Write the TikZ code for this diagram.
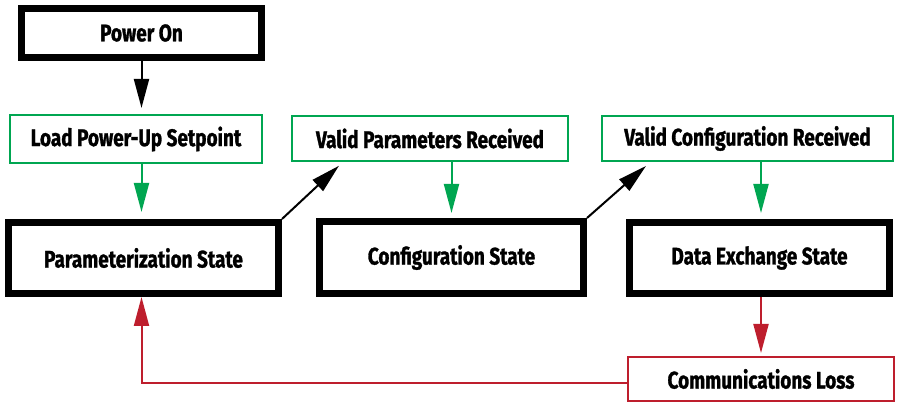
\documentclass[tikz,border=0pt]{standalone}
\usepackage{fontspec}
\setmainfont{Fira Sans}[FakeStretch=0.79, BoldFeatures={FakeBold=1.2}]
\usetikzlibrary{arrows.meta,calc}
\definecolor{mygreen}{RGB}{0,166,81}
\definecolor{myred}{RGB}{190,30,45}
\begin{document}
\begin{tikzpicture}[x=1pt,y=-1pt,
  lbl/.style={font=\fontsize{24}{27}\selectfont\bfseries, inner sep=0pt},
  statebox/.style={lbl, draw=black, line width=7pt, rectangle},
  eventbox/.style={lbl, draw=mygreen, line width=2pt, rectangle},
  lossbox/.style={lbl, draw=myred, line width=2pt, rectangle},
  arr/.style={line width=2pt, -{Triangle[length=29pt,width=15pt]}},
]
\useasboundingbox (0,0) rectangle (897,403);
\node[statebox, minimum width=240pt, minimum height=49pt] (pon) at (141.5,33) {Power On};
\node[eventbox, minimum width=252pt, minimum height=48pt] (load) at (136,139) {Load Power-Up Setpoint};
\node[statebox, minimum width=270pt, minimum height=71pt] (param) at (143.5,258) {Parameterization State};
\node[eventbox, minimum width=276pt, minimum height=45pt] (vpr) at (430,138.5) {Valid Parameters Received};
\node[statebox, minimum width=264pt, minimum height=72pt] (config) at (451.5,257.5) {Configuration State};
\node[eventbox, minimum width=291pt, minimum height=45pt] (vcr) at (747.5,138.5) {Valid Configuration Received};
\node[statebox, minimum width=260pt, minimum height=71pt] (data) at (759.5,258) {Data Exchange State};
\node[lossbox, minimum width=266pt, minimum height=44pt] (comm) at (761,379) {Communications Loss};

\draw[arr, black, shorten >=6pt] (pon.south) -- (pon.south |- load.north);
\draw[arr, mygreen, shorten >=7pt] (load.south -| pon.south) -- (param.north -| pon.south);
\draw[arr, mygreen, shorten >=5pt] (vpr.south -| config.north) -- (config.north);
\draw[arr, mygreen, shorten >=6pt] (vcr.south -| comm.north) -- (data.north -| comm.north);
\draw[arr, myred, shorten >=3pt] (data.south -| comm.north) -- (comm.north);
\draw[arr, myred] ([yshift=-4pt]comm.west) -| (pon.south |- param.south);
\draw[arr, black, shorten >=5.5pt] (param.north east) -- ($(vpr.south west)+(52,0)$);
\draw[arr, black, shorten >=6pt] (config.north east) -- ($(vcr.south west)+(49.5,0)$);
\end{tikzpicture}
\end{document}
